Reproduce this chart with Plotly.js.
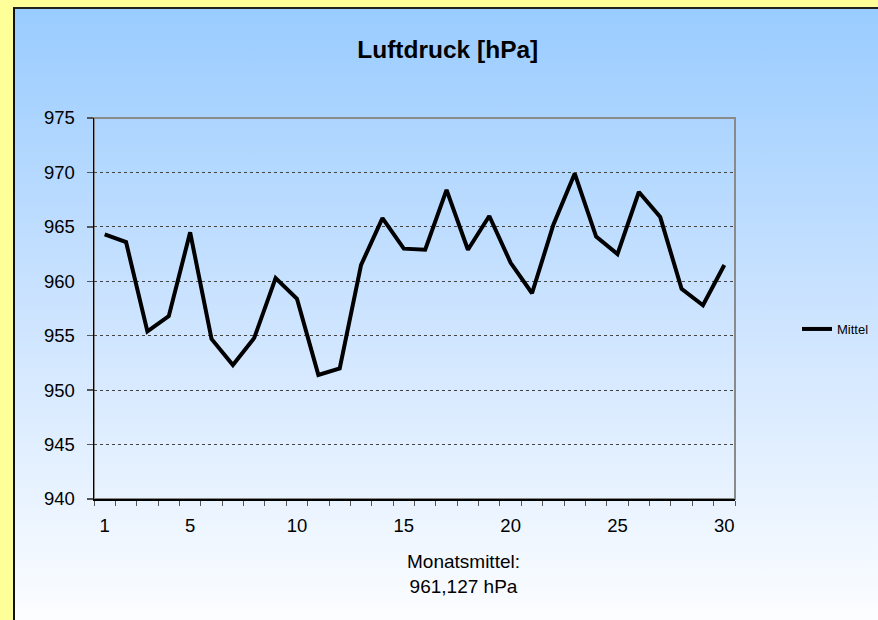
<!DOCTYPE html>
<html>
<head>
<meta charset="utf-8">
<script src="https://cdn.plot.ly/plotly-3.0.1.min.js"></script>
<style>
  html, body { margin: 0; padding: 0; width: 878px; height: 620px; overflow: hidden; background: #FFFF99; }
  #frame { position: absolute; left: 13px; top: 7px; width: 880px; height: 630px;
           border-left: 2px solid #111; border-top: 2px solid #222;
           background: linear-gradient(to bottom, #99CCFF 0%, #C9E2FF 45%, #FFFFFF 100%); }
  #chart { position: absolute; left: 0; top: 0; width: 878px; height: 620px; }
</style>
</head>
<body>
<div id="frame"></div>
<div id="chart"></div>
<script>
// Days of the month
const days = [1,2,3,4,5,6,7,8,9,10,11,12,13,14,15,16,17,18,19,20,21,22,23,24,25,26,27,28,29,30];
// Daily mean air pressure [hPa]
const mittel = [964.3,963.6,955.4,956.8,964.5,954.7,952.3,954.8,960.3,958.4,
                951.4,952.0,961.5,965.8,963.0,962.9,968.4,962.9,966.0,961.7,
                958.9,965.2,969.9,964.1,962.5,968.2,965.9,959.3,957.8,961.5];
const xTickVals = [1,5,10,15,20,25,30];
const yTickVals = [940,945,950,955,960,965,970,975];
const seriesName = 'Mittel';
const chartTitle = 'Luftdruck [hPa]';
const meanLabel = 'Monatsmittel:<br>961,127 hPa';

const FONT = 'Liberation Sans, Arial, sans-serif';

const traces = [{
  x: days, y: mittel, type: 'scatter', mode: 'lines', name: seriesName,
  line: { color: '#000000', width: 4 }
}];

const layout = {
  width: 878, height: 620,
  margin: { l: 94, r: 143, t: 118, b: 121, autoexpand: false },
  paper_bgcolor: 'rgba(0,0,0,0)',
  plot_bgcolor: 'rgba(0,0,0,0)',
  font: { family: FONT, color: '#000' },
  title: { text: '<b>' + chartTitle + '</b>', font: { size: 24.5, family: FONT, color: '#000' },
           x: 0.51, xanchor: 'center', xref: 'container', y: 1 - 49/620, yanchor: 'middle', yref: 'container' },
  xaxis: {
    range: [0.5, 30.5], tickmode: 'array', tickvals: xTickVals, ticks: '',
    showgrid: false, zeroline: false,
    showline: true, linecolor: '#000', linewidth: 1.5,
    tickfont: { size: 18.5, family: FONT, color: '#000' },
    ticklabelstandoff: 9,
    minor: { tick0: 0.5, dtick: 1, ticks: 'outside', ticklen: 5, tickcolor: '#555', tickwidth: 1, showgrid: false }
  },
  yaxis: {
    range: [940, 975], tickmode: 'array', tickvals: yTickVals, ticks: 'outside', ticklen: 6,
    tickcolor: '#555', tickwidth: 1.5,
    showgrid: true, gridcolor: '#444', griddash: 'dot', gridwidth: 1,
    zeroline: false, showline: true, linecolor: '#000', linewidth: 1.5,
    tickfont: { size: 18.5, family: FONT, color: '#000' },
    ticklabelstandoff: 8
  },
  shapes: [{
    type: 'rect', xref: 'paper', yref: 'paper', x0: 0, x1: 1, y0: 0, y1: 1,
    line: { color: '#8a8a8a', width: 2 }, layer: 'below'
  }],
  showlegend: true,
  legend: { xref: 'container', yref: 'container', x: 797/878, xanchor: 'left', y: 1 - 329/620, yanchor: 'middle',
            bgcolor: 'rgba(0,0,0,0)', font: { size: 13, family: FONT, color: '#000' } },
  annotations: [{
    text: meanLabel, xref: 'paper', yref: 'paper', x: (464-94)/641, y: -(574-499)/381,
    xanchor: 'center', yanchor: 'middle', showarrow: false,
    font: { size: 19, family: FONT, color: '#000' }
  }]
};

Plotly.newPlot('chart', traces, layout, { displayModeBar: false, staticPlot: true });
</script>
</body>
</html>
